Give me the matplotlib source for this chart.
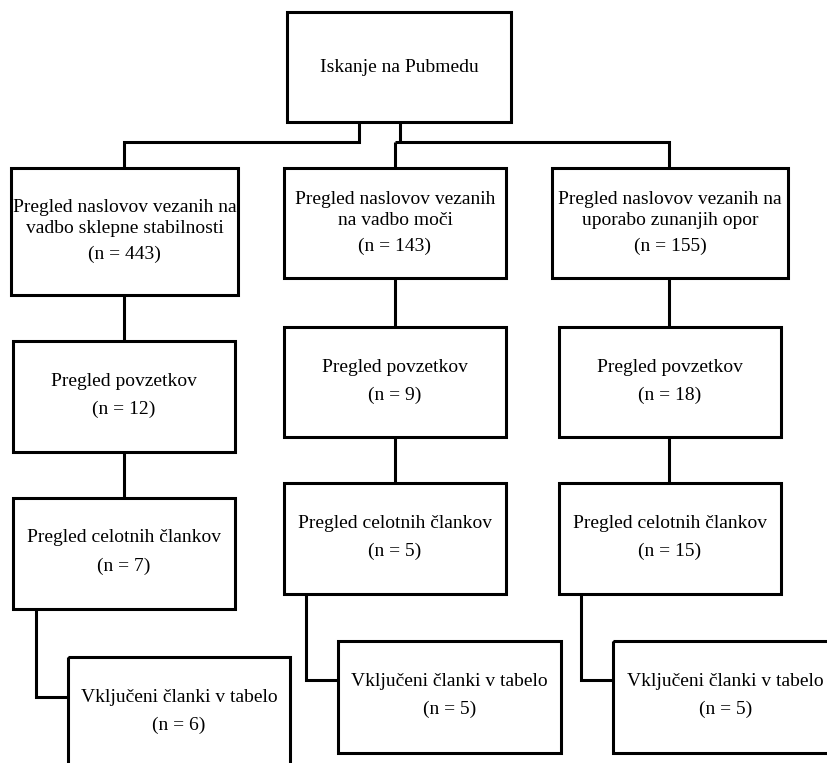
import matplotlib
matplotlib.use("Agg")
import matplotlib.pyplot as plt
from matplotlib.patches import Rectangle

# --- chart content ---
top_label = "Iskanje na Pubmedu"
branch_titles = [
    "Pregled naslovov vezanih na\nvadbo sklepne stabilnosti",
    "Pregled naslovov vezanih\nna vadbo moči",
    "Pregled naslovov vezanih na\nuporabo zunanjih opor",
]
stage_titles = ["Pregled povzetkov", "Pregled celotnih člankov", "Vključeni članki v tabelo"]
counts = [
    [443, 12, 7, 6],
    [143, 9, 5, 5],
    [155, 18, 15, 5],
]

# --- layout (pixels, y downwards) ---
top_box = (287, 12, 511, 122)
# per branch: list of (x0, y0, x1, y1) for the four stages
boxes = [
    [(11, 168, 238, 295), (13, 341, 235, 452), (13, 498, 235, 609), (68, 657, 290, 770)],
    [(284, 168, 506, 278), (284, 327, 506, 437), (284, 483, 506, 594), (338, 641, 561, 753)],
    [(552, 168, 788, 278), (559, 327, 781, 437), (559, 483, 781, 594), (613, 641, 838, 753)],
]
stem_x = [124, 395, 669]
elbow_x = [36, 306, 581]

W, H = 828, 763
LW = 2.2
fig = plt.figure(figsize=(W / 100, H / 100), dpi=100)
ax = fig.add_axes([0, 0, 1, 1])
ax.set_xlim(0, W)
ax.set_ylim(H, 0)
ax.axis("off")

font = dict(family="Liberation Serif", fontsize=14, color="black", ha="center", va="center")


def box(b):
    x0, y0, x1, y1 = b
    ax.add_patch(Rectangle((x0, y0), x1 - x0, y1 - y0, fill=False, lw=LW, ec="black", joinstyle="miter"))


def line(xs, ys):
    ax.plot(xs, ys, color="black", lw=LW, solid_capstyle="butt", solid_joinstyle="miter")


# top box
box(top_box)
ax.text((top_box[0] + top_box[2]) / 2, 67, top_label, **font)

# connectors from top box to the three branches
line([359, 359, 124, 124], [122, 142, 142, 168])
line([400, 400], [122, 142])
line([395, 669, 669], [142, 142, 168])
line([395, 395], [142, 168])

for i in range(3):
    bb = boxes[i]
    for b in bb:
        box(b)
    cx = [(b[0] + b[2]) / 2 for b in bb]

    # first stage: two-line title + count
    x0, y0, x1, y1 = bb[0]
    off = 40 if i == 0 else 32
    ax.text(cx[0], y0 + off + 10, branch_titles[i], linespacing=1.25, **font)
    ax.text(cx[0], y0 + off + 46, f"(n = {counts[i][0]})", **font)

    # later stages
    for k in range(1, 4):
        x0, y0, x1, y1 = bb[k]
        ax.text(cx[k], y0 + 40, stage_titles[k - 1], **font)
        ax.text(cx[k], y0 + 68, f"(n = {counts[i][k]})", **font)

    # vertical stems between stages 1-2 and 2-3
    line([stem_x[i], stem_x[i]], [bb[0][3], bb[1][1]])
    line([stem_x[i], stem_x[i]], [bb[1][3], bb[2][1]])
    # elbow into last stage
    ey = (bb[3][1] + bb[3][3]) / 2 - 17
    line([elbow_x[i], elbow_x[i], bb[3][0]], [bb[2][3], ey, ey])

fig.savefig("out.png", dpi=100, facecolor="white")
